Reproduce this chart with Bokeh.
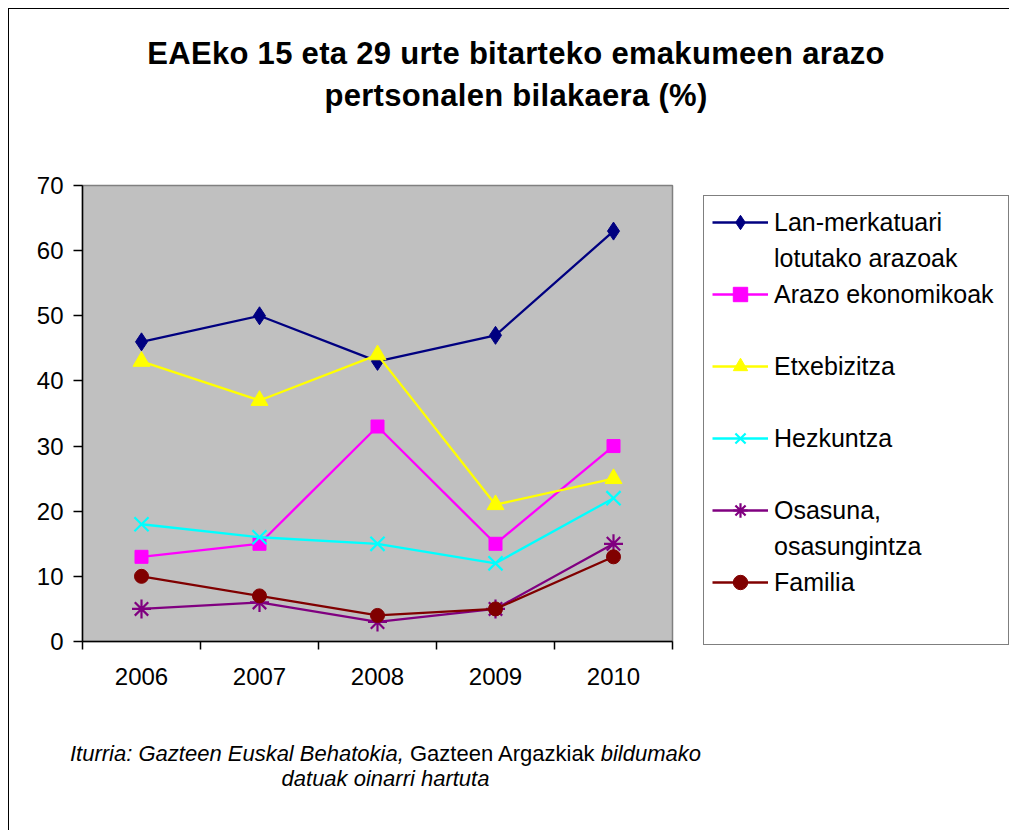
from bokeh.plotting import figure
from bokeh.models import Range1d, FixedTicker, Legend, LegendItem, Div
from bokeh.layouts import column
from bokeh.embed import file_html
from bokeh.resources import INLINE

# ---------------- data ----------------
years = [2006, 2007, 2008, 2009, 2010]
lan_merkatuari = [46, 50, 43, 47, 63]
arazo_ekonomikoak = [13, 15, 33, 15, 30]
etxebizitza = [43, 37, 44, 21, 25]
hezkuntza = [18, 16, 15, 12, 22]
osasuna = [5, 6, 3, 5, 15]
familia = [10, 7, 4, 5, 13]

y_ticks = [0, 10, 20, 30, 40, 50, 60, 70]
x_boundaries = [2005.5, 2006.5, 2007.5, 2008.5, 2009.5, 2010.5]

title_lines = ["EAEko 15 eta 29 urte bitarteko emakumeen arazo",
               "pertsonalen bilakaera (%)"]
source_italic_1 = "Iturria: Gazteen Euskal Behatokia,"
source_normal = "Gazteen Argazkiak"
source_italic_2 = "bildumako"
source_line2 = "datuak oinarri hartuta"

series_names = ["Lan-merkatuari", "Arazo ekonomikoak", "Etxebizitza",
                "Hezkuntza", "Osasuna,", "Familia"]
series_second_lines = ["lotutako arazoak", None, None, None, "osasungintza", None]
series_values = [lan_merkatuari, arazo_ekonomikoak, etxebizitza,
                 hezkuntza, osasuna, familia]
series_colors = ["#000080", "#FF00FF", "#FFFF00", "#00FFFF", "#800080", "#800000"]
series_markers = ["diamond", "square", "triangle", "x", "asterisk", "circle"]
series_sizes = [18, 13, 17, 20, 19, 14]

FONT = "Liberation Sans"

# ---------------- figure ----------------
p = figure(frame_width=590, frame_height=456, output_backend="svg", toolbar_location=None,
           x_range=Range1d(2005.5, 2010.5), y_range=Range1d(0, 70),
           min_border_left=73, min_border_right=0,
           min_border_top=16, min_border_bottom=79,
           background_fill_color="#C0C0C0", border_fill_color="white", margin=0)

p.xgrid.visible = False
p.ygrid.visible = False
p.outline_line_color = "#808080"
p.outline_line_width = 1.5

xa = p.xaxis[0]
xa.ticker = FixedTicker(ticks=years, minor_ticks=x_boundaries)
xa.major_tick_line_color = None
xa.major_tick_out = 8
xa.major_tick_in = 0
xa.minor_tick_out = 8
xa.minor_tick_in = 0
xa.minor_tick_line_color = "black"
xa.minor_tick_line_width = 1.5
xa.axis_line_color = "black"
xa.axis_line_width = 1.5
xa.major_label_text_font = FONT
xa.major_label_text_font_size = "24px"
xa.major_label_text_color = "black"
xa.major_label_standoff = 18

ya = p.yaxis[0]
ya.ticker = FixedTicker(ticks=y_ticks)
ya.major_tick_out = 9
ya.major_tick_in = 0
ya.major_tick_line_color = "black"
ya.major_tick_line_width = 1.5
ya.minor_tick_line_color = None
ya.axis_line_color = "black"
ya.axis_line_width = 1.5
ya.major_label_text_font = FONT
ya.major_label_text_font_size = "24px"
ya.major_label_text_color = "black"
ya.major_label_standoff = 10

# ---------------- series ----------------
dummy = p.line(x=[], y=[], line_alpha=0)
legend_items = []
for name, second, vals, col, mk, sz in zip(series_names, series_second_lines, series_values,
                                           series_colors, series_markers, series_sizes):
    ln = p.line(years, vals, line_color=col, line_width=2.3)
    if mk in ("x", "asterisk"):
        mr = p.scatter(years, vals, marker=mk, size=sz, line_color=col, line_width=2.2)
    else:
        mr = p.scatter(years, vals, marker=mk, size=sz, fill_color=col, line_color=col)
    legend_items.append(LegendItem(label=name, renderers=[ln, mr]))
    if second is not None:
        legend_items.append(LegendItem(label=second, renderers=[dummy]))
    else:
        legend_items.append(LegendItem(label=" ", renderers=[dummy]))

legend = Legend(items=legend_items, location=(31, -4), padding=8, spacing=0, margin=0,
                glyph_width=56, glyph_height=36, label_height=36, label_standoff=6,
                label_width=226,
                label_text_font=FONT, label_text_font_size="25px",
                label_text_color="black", label_text_baseline="middle",
                border_line_color="black", border_line_width=1.5,
                background_fill_color="white", background_fill_alpha=1.0)
p.add_layout(legend, "right")

# ---------------- title & source ----------------
title_html = (
    '<div style="box-sizing:border-box;width:990px;padding-top:24px;padding-left:24px;'
    'text-align:center;font-family:Liberation Sans, Arial, sans-serif;font-weight:bold;'
    'font-size:31px;letter-spacing:0.3px;line-height:42px;color:#000;white-space:nowrap">'
    + title_lines[0] + '<br>' + title_lines[1] + '</div>'
)
title_div = Div(text=title_html, width=990, height=160, margin=0)

source_html = (
    '<div style="box-sizing:border-box;width:753px;padding-top:21px;text-align:center;'
    'font-family:Liberation Sans, Arial, sans-serif;font-size:22px;line-height:25px;'
    'color:#000;white-space:nowrap">'
    '<i>' + source_italic_1 + '</i> ' + source_normal + ' <i>' + source_italic_2 + '</i>'
    '<br><i>' + source_line2 + '</i></div>'
)
source_div = Div(text=source_html, width=990, height=110, margin=0)

root = column(title_div, p, source_div, margin=(8, 0, 0, 8),
              styles={"border-left": "1px solid #000000", "border-top": "1px solid #000000"})

with open("out.html", "w") as f:
    f.write(file_html(root, INLINE))
